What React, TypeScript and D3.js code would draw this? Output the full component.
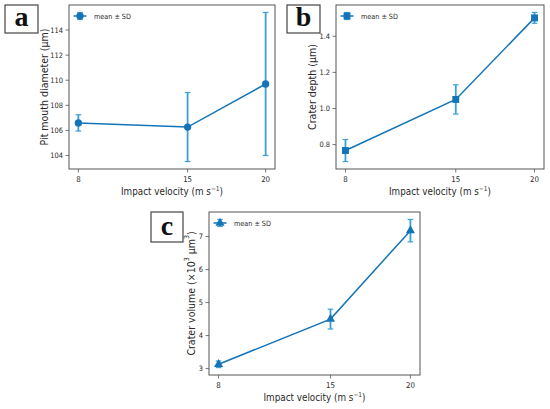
import * as d3 from 'd3';

// impact velocities (m s^-1)
const velocities = [8, 15, 20];

// panel a: pit mouth diameter (µm)
const pitMean = [106.6, 106.27, 109.7];
const pitSd = [0.65, 2.75, 5.7];
const pitTicks = [104, 106, 108, 110, 112, 114];

// panel b: crater depth (µm)
const depthMean = [0.767, 1.05, 1.502];
const depthSd = [0.061, 0.081, 0.03];
const depthTicks = [0.8, 1.0, 1.2, 1.4];

// panel c: crater volume (x10^3 µm^3)
const volumeMean = [3.13, 4.5, 7.18];
const volumeSd = [0.1, 0.3, 0.34];
const volumeTicks = [3, 4, 5, 6, 7];

const LINE = '#1474b8';
const ERR = '#3aa0d8';
const AXIS = '#555';
const TEXT = '#2a2a2a';
const FONT = "'DejaVu Sans Condensed', 'Liberation Sans Narrow', 'DejaVu Sans', sans-serif";

interface Box { x: number; y: number; w: number; h: number }

interface PanelProps {
  frame: Box;
  letter: string;
  letterBox: Box;
  means: number[];
  sds: number[];
  ticks: number[];
  tickFmt: (v: number) => string;
  ylabel: React.ReactNode;
  ylabelGap: number;
  marker: d3.SymbolType;
  markerSize: number;
}

const Panel = ({ frame, letter, letterBox, means, sds, ticks, tickFmt, ylabel, ylabelGap, marker, markerSize }: PanelProps) => {
  // matplotlib-style 5% margins
  const lo = d3.min(means.map((m, i) => m - sds[i]))!;
  const hi = d3.max(means.map((m, i) => m + sds[i]))!;
  const pad = (hi - lo) * 0.05;
  const xExt = d3.extent(velocities) as [number, number];
  const xPad = (xExt[1] - xExt[0]) * 0.05;

  const x = d3.scaleLinear().domain([xExt[0] - xPad, xExt[1] + xPad]).range([frame.x, frame.x + frame.w]);
  const y = d3.scaleLinear().domain([lo - pad, hi + pad]).range([frame.y + frame.h, frame.y]);

  const line = d3.line<number>().x((_, i) => x(velocities[i])).y(d => y(d));
  const sym = d3.symbol().type(marker).size(markerSize)();
  const bottom = frame.y + frame.h;
  const cap = 2.8;

  const lgX = frame.x + 11;
  const lgY = frame.y + 11;

  return (
    <g>
      {/* letter box */}
      <rect x={letterBox.x} y={letterBox.y} width={letterBox.w} height={letterBox.h} fill="#fff" stroke="#444" strokeWidth={1.2} />
      <text x={letterBox.x + letterBox.w / 2} y={letterBox.y + letterBox.h - 7} textAnchor="middle"
        fontFamily="'Liberation Serif', 'DejaVu Serif', serif" fontWeight="bold" fontSize={28} fill="#111">{letter}</text>

      {/* error bars */}
      {means.map((m, i) => (
        <g key={'e' + i} stroke={ERR} strokeWidth={1.8}>
          <line x1={x(velocities[i])} x2={x(velocities[i])} y1={y(m - sds[i])} y2={y(m + sds[i])} />
          <line x1={x(velocities[i]) - cap} x2={x(velocities[i]) + cap} y1={y(m - sds[i])} y2={y(m - sds[i])} strokeWidth={1.2} />
          <line x1={x(velocities[i]) - cap} x2={x(velocities[i]) + cap} y1={y(m + sds[i])} y2={y(m + sds[i])} strokeWidth={1.2} />
        </g>
      ))}
      <path d={line(means) ?? ''} fill="none" stroke={LINE} strokeWidth={1.5} />
      {means.map((m, i) => (
        <path key={'m' + i} d={sym ?? ''} transform={`translate(${x(velocities[i])},${y(m)})`} fill={LINE} />
      ))}

      {/* frame */}
      <rect x={frame.x} y={frame.y} width={frame.w} height={frame.h} fill="none" stroke={AXIS} strokeWidth={1} />

      {/* y ticks */}
      {ticks.map(t => (
        <g key={'y' + t}>
          <line x1={frame.x - 3.5} x2={frame.x} y1={y(t)} y2={y(t)} stroke={AXIS} strokeWidth={0.8} />
          <text x={frame.x - 6} y={y(t) + 2.8} textAnchor="end" fontFamily={FONT} fontSize={7.4} fill={TEXT}>{tickFmt(t)}</text>
        </g>
      ))}
      {/* x ticks */}
      {velocities.map(v => (
        <g key={'x' + v}>
          <line x1={x(v)} x2={x(v)} y1={bottom} y2={bottom + 3.5} stroke={AXIS} strokeWidth={0.8} />
          <text x={x(v)} y={bottom + 12.5} textAnchor="middle" fontFamily={FONT} fontSize={7.8} fill={TEXT}>{v}</text>
        </g>
      ))}

      <text x={frame.x + frame.w / 2} y={bottom + 26} textAnchor="middle" fontFamily={FONT} fontSize={9.8} fill={TEXT}>
        Impact velocity (m s<tspan baselineShift="super" fontSize={6.5}>−1</tspan>)
      </text>
      <text transform={`translate(${frame.x - ylabelGap},${frame.y + frame.h / 2}) rotate(-90)`} textAnchor="middle"
        dominantBaseline="central" fontFamily={FONT} fontSize={10.5} fill={TEXT}>{ylabel}</text>

      {/* legend */}
      <g>
        <line x1={lgX - 6.5} x2={lgX + 6.5} y1={lgY} y2={lgY} stroke={LINE} strokeWidth={1.5} />
        <line x1={lgX} x2={lgX} y1={lgY - 3.5} y2={lgY + 3.5} stroke={ERR} strokeWidth={1.8} />
        <line x1={lgX - cap} x2={lgX + cap} y1={lgY - 3.5} y2={lgY - 3.5} stroke={ERR} strokeWidth={1.2} />
        <line x1={lgX - cap} x2={lgX + cap} y1={lgY + 3.5} y2={lgY + 3.5} stroke={ERR} strokeWidth={1.2} />
        <path d={sym ?? ''} transform={`translate(${lgX},${lgY})`} fill={LINE} />
        <text x={lgX + 14} y={lgY + 2.5} fontFamily={FONT} fontSize={7.2} fill={TEXT}>mean ± SD</text>
      </g>
    </g>
  );
};

const App = () => {
  return (
    <div style={{ position: 'absolute', left: 0, top: 0 }}>
      <svg width={550} height={409} viewBox="0 0 550 409" style={{ display: 'block', background: '#fff' }}>
        <Panel
          frame={{ x: 69, y: 5, w: 206, h: 164 }}
          letter="a"
          letterBox={{ x: 5, y: 5, w: 33, h: 28 }}
          means={pitMean}
          sds={pitSd}
          ticks={pitTicks}
          tickFmt={d3.format('d')}
          ylabel="Pit mouth diameter (µm)"
          ylabelGap={25}
          marker={d3.symbolCircle}
          markerSize={42}
        />
        <Panel
          frame={{ x: 336, y: 5, w: 208, h: 164 }}
          letter="b"
          letterBox={{ x: 287, y: 5, w: 33, h: 28 }}
          means={depthMean}
          sds={depthSd}
          ticks={depthTicks}
          tickFmt={d3.format('.1f')}
          ylabel="Crater depth (µm)"
          ylabelGap={24}
          marker={d3.symbolSquare}
          markerSize={48}
        />
        <Panel
          frame={{ x: 209, y: 212, w: 211, h: 163 }}
          letter="c"
          letterBox={{ x: 151, y: 212, w: 32, h: 30 }}
          means={volumeMean}
          sds={volumeSd}
          ticks={volumeTicks}
          tickFmt={d3.format('d')}
          ylabel={<>Crater volume (×10<tspan baselineShift="super" fontSize={7}>3</tspan> µm<tspan baselineShift="super" fontSize={7}>3</tspan>)</>}
          ylabelGap={18}
          marker={d3.symbolTriangle}
          markerSize={36}
        />
      </svg>
    </div>
  );
};

export default App;
